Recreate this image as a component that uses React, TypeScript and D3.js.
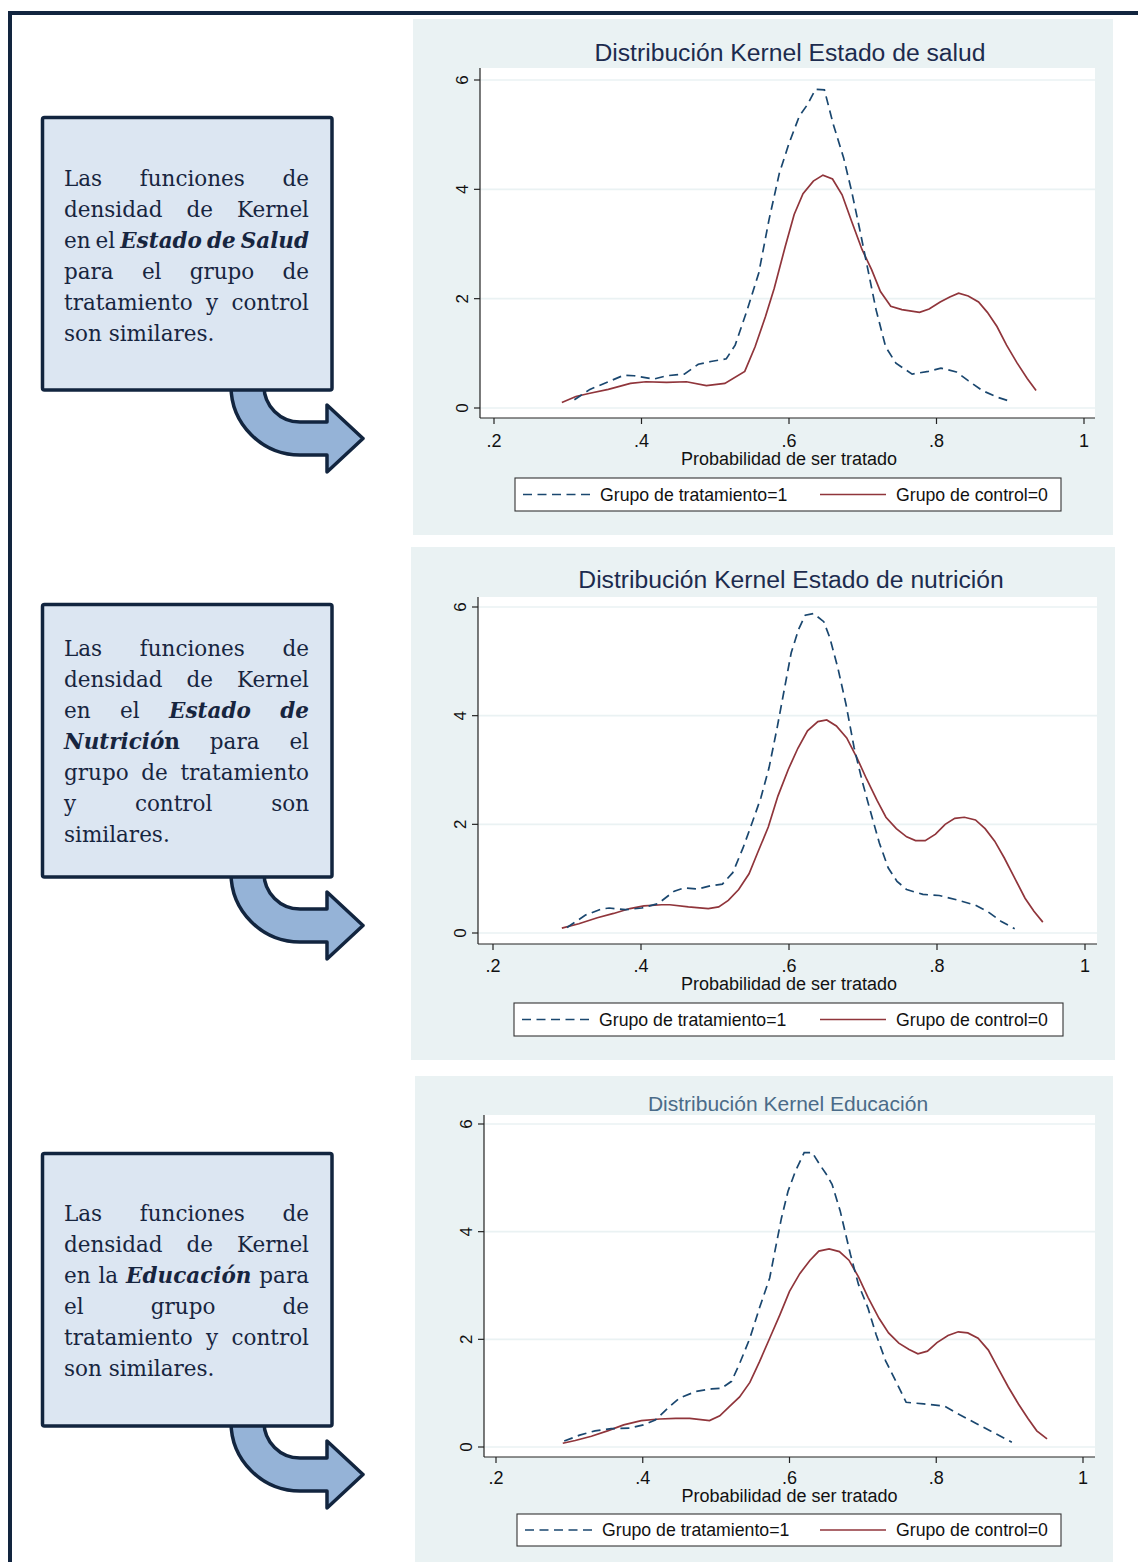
import React, { useEffect, useRef } from 'react';
import * as d3 from 'd3';

type Pt = [number, number];

const xTicks = [0.2, 0.4, 0.6, 0.8, 1];
const xTickLabels = ['.2', '.4', '.6', '.8', '1'];
const yTicks = [0, 2, 4, 6];
const xAxisTitle = 'Probabilidad de ser tratado';
const seriesNames = ['Grupo de tratamiento=1', 'Grupo de control=0'];
const chartTitles = [
    'Distribución Kernel Estado de salud',
    'Distribución Kernel Estado de nutrición',
    'Distribución Kernel Educación',
];

// Estado de salud
const saludTratamiento: Pt[] = [
    [0.309, 0.15], [0.330, 0.34], [0.355, 0.48], [0.376, 0.60], [0.390, 0.59], [0.417, 0.53],
    [0.434, 0.59], [0.458, 0.62], [0.477, 0.80], [0.494, 0.85], [0.515, 0.90], [0.527, 1.15],
    [0.543, 1.78], [0.559, 2.47], [0.573, 3.45], [0.587, 4.30], [0.600, 4.84], [0.614, 5.34],
    [0.625, 5.55], [0.636, 5.83], [0.648, 5.82], [0.660, 5.19], [0.674, 4.58], [0.685, 3.96],
    [0.696, 3.26], [0.707, 2.53], [0.718, 1.80], [0.731, 1.12], [0.745, 0.82], [0.767, 0.62],
    [0.789, 0.67], [0.806, 0.73], [0.827, 0.66], [0.843, 0.50], [0.862, 0.32], [0.882, 0.20],
    [0.900, 0.12],
];
const saludControl: Pt[] = [
    [0.292, 0.10], [0.311, 0.21], [0.330, 0.27], [0.355, 0.34], [0.385, 0.45], [0.406, 0.48],
    [0.434, 0.47], [0.461, 0.48], [0.488, 0.41], [0.513, 0.45], [0.540, 0.67], [0.554, 1.12],
    [0.568, 1.67], [0.580, 2.19], [0.595, 2.96], [0.607, 3.54], [0.619, 3.92], [0.633, 4.15],
    [0.646, 4.26], [0.659, 4.19], [0.672, 3.90], [0.685, 3.41], [0.699, 2.90], [0.712, 2.53],
    [0.724, 2.13], [0.738, 1.86], [0.753, 1.80], [0.777, 1.75], [0.790, 1.81], [0.805, 1.94],
    [0.818, 2.03], [0.830, 2.10], [0.843, 2.05], [0.857, 1.94], [0.869, 1.75], [0.882, 1.49],
    [0.895, 1.15], [0.909, 0.83], [0.923, 0.54], [0.935, 0.32],
];

// Estado de nutrición
const nutricionTratamiento: Pt[] = [
    [0.300, 0.10], [0.325, 0.33], [0.346, 0.44], [0.357, 0.46], [0.379, 0.43], [0.401, 0.46],
    [0.423, 0.54], [0.445, 0.77], [0.458, 0.83], [0.477, 0.81], [0.494, 0.87], [0.510, 0.90],
    [0.524, 1.11], [0.538, 1.57], [0.551, 2.06], [0.562, 2.49], [0.573, 3.04], [0.584, 3.78],
    [0.595, 4.58], [0.603, 5.16], [0.613, 5.59], [0.622, 5.85], [0.633, 5.88], [0.647, 5.73],
    [0.655, 5.44], [0.666, 4.88], [0.677, 4.21], [0.688, 3.41], [0.699, 2.79], [0.710, 2.24],
    [0.722, 1.66], [0.734, 1.20], [0.746, 0.95], [0.759, 0.80], [0.781, 0.71], [0.803, 0.69],
    [0.827, 0.61], [0.852, 0.51], [0.868, 0.40], [0.887, 0.21], [0.905, 0.08],
];
const nutricionControl: Pt[] = [
    [0.293, 0.09], [0.316, 0.17], [0.341, 0.28], [0.363, 0.36], [0.385, 0.45], [0.404, 0.50],
    [0.428, 0.52], [0.439, 0.52], [0.464, 0.48], [0.491, 0.45], [0.505, 0.48], [0.518, 0.60],
    [0.532, 0.80], [0.546, 1.09], [0.558, 1.49], [0.572, 1.95], [0.585, 2.52], [0.599, 3.01],
    [0.612, 3.40], [0.625, 3.72], [0.639, 3.89], [0.651, 3.92], [0.664, 3.81], [0.678, 3.59],
    [0.692, 3.22], [0.705, 2.83], [0.719, 2.44], [0.731, 2.13], [0.745, 1.92], [0.759, 1.77],
    [0.771, 1.70], [0.784, 1.70], [0.798, 1.82], [0.811, 2.00], [0.824, 2.11], [0.837, 2.13],
    [0.852, 2.08], [0.865, 1.92], [0.878, 1.69], [0.891, 1.38], [0.905, 1.01], [0.919, 0.64],
    [0.931, 0.40], [0.943, 0.20],
];

// Educación
const educacionTratamiento: Pt[] = [
    [0.293, 0.11], [0.314, 0.22], [0.335, 0.30], [0.357, 0.34], [0.382, 0.35], [0.401, 0.41],
    [0.417, 0.50], [0.434, 0.72], [0.450, 0.91], [0.472, 1.03], [0.494, 1.08], [0.507, 1.09],
    [0.521, 1.22], [0.532, 1.55], [0.546, 2.02], [0.559, 2.58], [0.573, 3.14], [0.581, 3.70],
    [0.589, 4.25], [0.598, 4.75], [0.608, 5.12], [0.620, 5.47], [0.631, 5.47], [0.641, 5.25],
    [0.650, 5.07], [0.658, 4.88], [0.669, 4.39], [0.683, 3.58], [0.694, 3.02], [0.707, 2.58],
    [0.718, 2.09], [0.731, 1.60], [0.745, 1.22], [0.759, 0.83], [0.783, 0.80], [0.811, 0.76],
    [0.832, 0.60], [0.857, 0.42], [0.882, 0.24], [0.903, 0.09],
];
const educacionControl: Pt[] = [
    [0.291, 0.07], [0.308, 0.12], [0.330, 0.20], [0.352, 0.30], [0.374, 0.41], [0.398, 0.49],
    [0.423, 0.52], [0.445, 0.53], [0.464, 0.53], [0.491, 0.49], [0.505, 0.58], [0.518, 0.75],
    [0.532, 0.93], [0.546, 1.20], [0.559, 1.58], [0.573, 2.02], [0.587, 2.46], [0.600, 2.89],
    [0.614, 3.22], [0.628, 3.47], [0.640, 3.64], [0.654, 3.68], [0.668, 3.63], [0.681, 3.47],
    [0.694, 3.16], [0.707, 2.78], [0.722, 2.39], [0.735, 2.12], [0.749, 1.93], [0.763, 1.81],
    [0.775, 1.73], [0.788, 1.78], [0.801, 1.94], [0.816, 2.07], [0.830, 2.14], [0.843, 2.12],
    [0.857, 2.02], [0.871, 1.80], [0.884, 1.47], [0.898, 1.12], [0.912, 0.80], [0.925, 0.53],
    [0.937, 0.30], [0.951, 0.15],
];

// texts of the boxes on the left; *word* = bold italic, #x# = bold
const box1Lines = ['Las funciones de', 'densidad de Kernel', 'en el *Estado* *de* *Salud*', 'para el grupo de', 'tratamiento y control', 'son similares.'];
const box2Lines = ['Las funciones de', 'densidad de Kernel', 'en el *Estado* *de*', '*Nutrició*#n# para el', 'grupo de tratamiento', 'y control son', 'similares.'];
const box3Lines = ['Las funciones de', 'densidad de Kernel', 'en la *Educación* para', 'el grupo de', 'tratamiento y control', 'son similares.'];

const NAVY = '#12253f';
const BLUE = '#1a476f';
const RED = '#90353b';
const PANEL_BG = '#eaf2f3';
const SANS = '"Liberation Sans", Arial, sans-serif';

const panels = [
    {
        bg: [413, 19, 700, 516], plot: [480, 1095, 68, 418], xr: [494, 1084], yr: [408, 80],
        title: chartTitles[0], titleY: 61, titleX: 790, titleSize: 24.7, titleColor: '#1c2b4e',
        tickY: 447, axisTitleY: 465, legend: [515, 478, 546, 33],
        treat: saludTratamiento, ctrl: saludControl,
    },
    {
        bg: [411, 547, 704, 513], plot: [478, 1097, 597, 944], xr: [493, 1085], yr: [933, 607],
        title: chartTitles[1], titleY: 588, titleX: 791, titleSize: 24.7, titleColor: '#1c2b4e',
        tickY: 972, axisTitleY: 990, legend: [514, 1003, 549, 33],
        treat: nutricionTratamiento, ctrl: nutricionControl,
    },
    {
        bg: [415, 1076, 698, 490], plot: [484, 1095, 1115, 1457], xr: [496, 1083], yr: [1447, 1124],
        title: chartTitles[2], titleY: 1111, titleX: 788, titleSize: 21, titleColor: '#4a6b88',
        tickY: 1484, axisTitleY: 1502, legend: [517, 1514, 544, 32],
        treat: educacionTratamiento, ctrl: educacionControl,
    },
];

const boxes = [
    { top: 117, firstBase: 186, lines: box1Lines },
    { top: 604, firstBase: 656, lines: box2Lines },
    { top: 1153, firstBase: 1221, lines: box3Lines },
];

function KernelChart({ p }: { p: any }) {
    const [px0, px1, py0, py1] = p.plot;
    const x = d3.scaleLinear().domain([0.2, 1]).range(p.xr);
    const y = d3.scaleLinear().domain([0, 6]).range(p.yr);
    const line = d3.line<Pt>().x((d) => x(d[0])).y((d) => y(d[1]));
    const [lx, ly, lw, lh] = p.legend;
    const lmid = ly + lh / 2;

    return (
        <g>
            <rect x={p.bg[0]} y={p.bg[1]} width={p.bg[2]} height={p.bg[3]} fill={PANEL_BG} />
            <text x={p.titleX} y={p.titleY} textAnchor="middle" fontFamily={SANS}
                fontSize={p.titleSize} fill={p.titleColor}>{p.title}</text>
            <rect x={px0} y={py0} width={px1 - px0} height={py1 - py0} fill="#ffffff" />
            {yTicks.map((t) => (
                <line key={'g' + t} x1={px0} x2={px1} y1={y(t)} y2={y(t)} stroke={PANEL_BG} strokeWidth={1.6} />
            ))}
            <path d={line(p.ctrl) || ''} fill="none" stroke={RED} strokeWidth={1.7} />
            <path d={line(p.treat) || ''} fill="none" stroke={BLUE} strokeWidth={1.7} strokeDasharray="9,5.5" />
            {/* axes */}
            <line x1={px0} x2={px0} y1={py0} y2={py1} stroke="#222" strokeWidth={1.2} />
            <line x1={px0} x2={px1} y1={py1} y2={py1} stroke="#222" strokeWidth={1.2} />
            {yTicks.map((t) => (
                <g key={'y' + t}>
                    <line x1={px0 - 6} x2={px0} y1={y(t)} y2={y(t)} stroke="#222" strokeWidth={1.2} />
                    <text transform={`translate(${px0 - 12},${y(t)}) rotate(-90)`} textAnchor="middle"
                        fontFamily={SANS} fontSize={17} fill="#111">{t}</text>
                </g>
            ))}
            {xTicks.map((t, i) => (
                <g key={'x' + t}>
                    <line x1={x(t)} x2={x(t)} y1={py1} y2={py1 + 6} stroke="#222" strokeWidth={1.2} />
                    <text x={x(t)} y={p.tickY} textAnchor="middle" fontFamily={SANS} fontSize={18} fill="#111">
                        {xTickLabels[i]}
                    </text>
                </g>
            ))}
            <text x={x(0.6)} y={p.axisTitleY} textAnchor="middle" fontFamily={SANS} fontSize={18} fill="#111">
                {xAxisTitle}
            </text>
            {/* legend */}
            <rect x={lx} y={ly} width={lw} height={lh} fill="#fff" stroke="#333" strokeWidth={1.1} />
            <line x1={lx + 8} x2={lx + 75} y1={lmid} y2={lmid} stroke={BLUE} strokeWidth={1.7} strokeDasharray="9,5.5" />
            <text x={lx + 85} y={lmid + 6} fontFamily={SANS} fontSize={17.7} fill="#111">{seriesNames[0]}</text>
            <line x1={820} x2={886} y1={lmid} y2={lmid} stroke={RED} strokeWidth={1.7} />
            <text x={896} y={lmid + 6} fontFamily={SANS} fontSize={17.7} fill="#111">{seriesNames[1]}</text>
        </g>
    );
}

function arrowPath(by: number) {
    const d = by - 390;
    return `M231,${380 + d} L231,${386 + d} A69,69 0 0 0 300,${455 + d} L327,${455 + d} L327,${472 + d}
        L363,${438.5 + d} L327,${405 + d} L327,${422 + d} L300,${422 + d} A36,36 0 0 1 264,${386 + d}
        L264,${380 + d} Z`;
}

function TextBox({ top, firstBase, lines }: { top: number; firstBase: number; lines: string[] }) {
    const ref = useRef<SVGGElement>(null);
    const left = 64;
    const right = 309;

    useEffect(() => {
        const g = d3.select(ref.current);
        g.selectAll('*').remove();
        lines.forEach((ln, li) => {
            const words = ln.split(' ');
            const yb = firstBase + li * 31;
            const nodes = words.map((w) => {
                const t = g.append('text')
                    .attr('y', yb)
                    .attr('font-family', '"DejaVu Serif", "Liberation Serif", serif')
                    .attr('font-size', 21.5)
                    .attr('fill', '#17253f');
                const segs = w.match(/(\*[^*]+\*|#[^#]+#|[^*#]+)/g) || [];
                segs.forEach((s) => {
                    const ts = t.append('tspan');
                    if (s.startsWith('*')) {
                        ts.text(s.slice(1, -1)).attr('font-weight', 'bold').attr('font-style', 'italic');
                    } else if (s.startsWith('#')) {
                        ts.text(s.slice(1, -1)).attr('font-weight', 'bold');
                    } else {
                        ts.text(s);
                    }
                });
                return t;
            });
            const widths = nodes.map((n) => (n.node() as SVGTextElement).getComputedTextLength());
            const total = d3.sum(widths);
            const isLast = li === lines.length - 1;
            let gap = isLast || nodes.length < 2 ? 6.8 : (right - left - total) / (nodes.length - 1);
            // squeeze a line that is wider than the box
            if (!isLast && gap < 4) {
                const k = (right - left - 4 * (nodes.length - 1)) / total;
                nodes.forEach((n, i) => {
                    n.attr('textLength', widths[i] * k).attr('lengthAdjust', 'spacingAndGlyphs');
                    widths[i] *= k;
                });
                gap = 4;
            }
            let xp = left;
            nodes.forEach((n, i) => {
                n.attr('x', xp);
                xp += widths[i] + gap;
            });
        });
    }, [lines, firstBase]);

    return (
        <g>
            <path d={arrowPath(top + 273)} fill="#95b3d7" stroke={NAVY} strokeWidth={3.5} strokeLinejoin="round" />
            <rect x={42.5} y={top + 0.5} width={289.5} height={272.5} rx={2} fill="#dce6f2" stroke={NAVY} strokeWidth={3.5} />
            <g ref={ref} />
        </g>
    );
}

export default function App() {
    return (
        <svg width={1138} height={1562} style={{ position: 'absolute', left: 0, top: 0, background: '#fff' }}>
            <rect x={0} y={0} width={1138} height={1562} fill="#ffffff" />
            {panels.map((p, i) => <KernelChart key={i} p={p} />)}
            {boxes.map((b, i) => <TextBox key={i} top={b.top} firstBase={b.firstBase} lines={b.lines} />)}
            <path d="M10,1570 L10,13 L1145,13" fill="none" stroke={NAVY} strokeWidth={4} />
        </svg>
    );
}
